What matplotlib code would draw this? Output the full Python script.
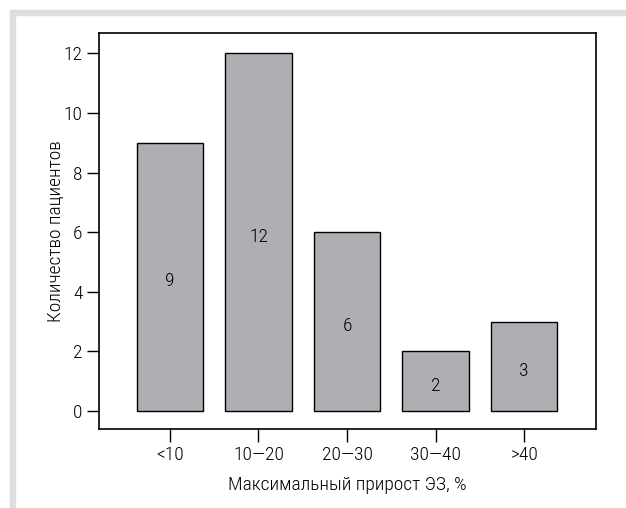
import matplotlib
matplotlib.use("Agg")
import matplotlib.pyplot as plt
from matplotlib.patches import Rectangle

# Данные
categories = ["<10", "10\u201420", "20\u201430", "30\u201440", ">40"]
patients = [9, 12, 6, 2, 3]
yticks = [0, 2, 4, 6, 8, 10, 12]

plt.rcParams['font.family'] = ['Roboto Condensed', 'PT Sans Narrow', 'DejaVu Sans']
plt.rcParams['font.size'] = 14
plt.rcParams['font.weight'] = 'light'
plt.rcParams['axes.labelweight'] = 'light'

fig = plt.figure(figsize=(6.26, 5.08), dpi=100)

# серая рамка страницы
frame = "#dcdfe0"
fig.patches.append(Rectangle((10/626, 0), 5/626, 498/508, transform=fig.transFigure, color=frame, zorder=0))
fig.patches.append(Rectangle((10/626, 493/508), 616/626, 5/508, transform=fig.transFigure, color=frame, zorder=0))

ax = fig.add_axes([99/626, 1 - 429/508, (596-99)/626, (429-33)/508])
x = range(len(categories))
ax.bar(x, patients, width=0.75, color="#aeafb3", edgecolor="black", linewidth=1.0)

for i, v in enumerate(patients):
    ax.text(i, v / 2 - 0.15, str(v), ha="center", va="center")

ax.set_xlim(-0.8, 4.81)
ax.set_ylim(-0.6, 12.68)
ax.set_xticks(list(x))
ax.set_xticklabels(categories)
ax.set_yticks(yticks)
ax.tick_params(direction="out", length=9, width=1, pad=3, labelsize=14)
for s in ax.spines.values():
    s.set_linewidth(1.2)

ax.set_xlabel("Максимальный прирост ЭЗ, %", labelpad=9, fontweight="light")
ax.set_ylabel("Количество пациентов", labelpad=-1, fontweight="light")

fig.savefig("out.png", dpi=100)
